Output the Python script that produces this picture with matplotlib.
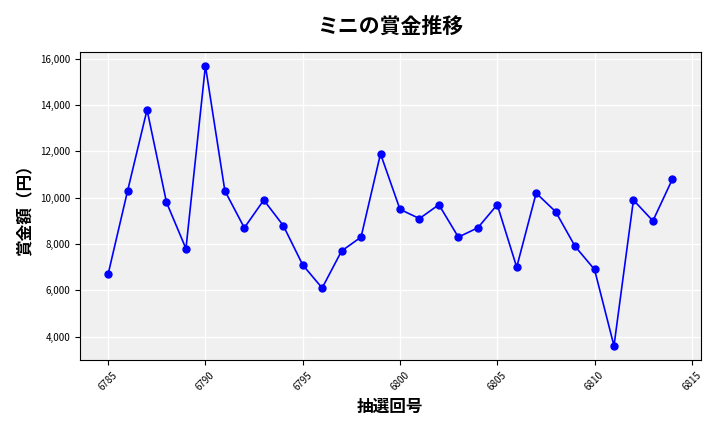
import matplotlib
matplotlib.use("Agg")
import matplotlib.pyplot as plt
from matplotlib.ticker import FuncFormatter

plt.rcParams['font.family'] = ['Noto Sans CJK JP', 'DejaVu Sans']

draws = list(range(6785, 6815))
prizes = [6700, 10300, 13800, 9800, 7800, 15700, 10300, 8700, 9900, 8800,
          7100, 6100, 7700, 8300, 11900, 9500, 9100, 9700, 8300, 8700,
          9700, 7000, 10200, 9400, 7900, 6900, 3600, 9900, 9000, 10800]

fig, ax = plt.subplots(figsize=(7.2, 4.32), dpi=100)
ax.set_facecolor('#f0f0f0')
ax.grid(True, color='white', linewidth=1)
ax.set_axisbelow(True)
ax.plot(draws, prizes, color='blue', marker='o', markersize=5, linewidth=1.2)
ax.set_title('ミニの賞金推移', fontsize=15, fontweight='bold', pad=14)
ax.set_xlabel('抽選回号', fontsize=12, fontweight='bold')
ax.set_ylabel('賞金額（円）', fontsize=12, fontweight='bold')
ax.yaxis.set_major_formatter(FuncFormatter(lambda v, p: f'{int(v):,}'))
ax.tick_params(axis='both', labelsize=7)
plt.setp(ax.get_xticklabels(), rotation=45)
plt.tight_layout()
fig.subplots_adjust(left=0.111, right=0.973, top=0.88, bottom=0.167)
fig.savefig('out.png', dpi=100)
